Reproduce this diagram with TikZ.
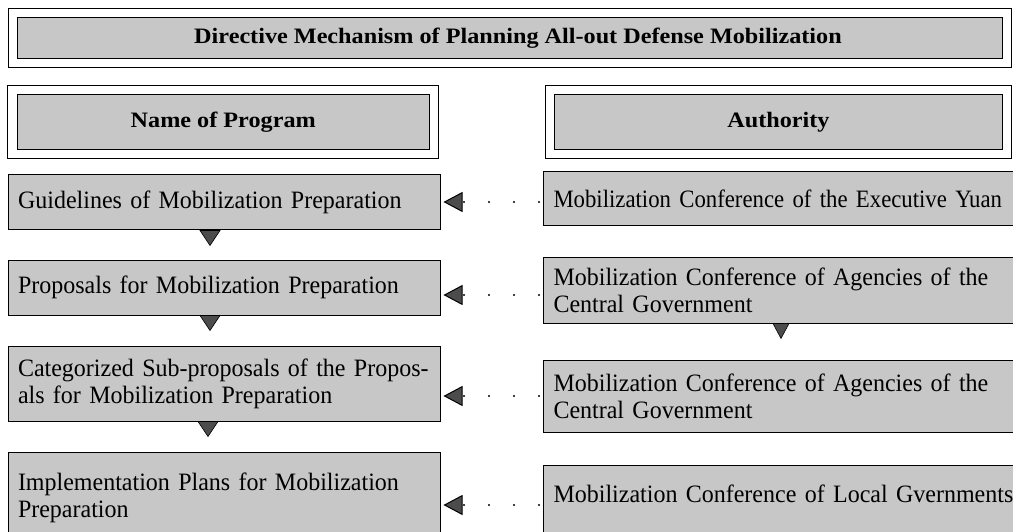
\documentclass[tikz,border=0pt]{standalone}
\usepackage{fontspec}
\setmainfont{Liberation Serif}
\newfontfamily\headfont[FakeStretch=1.1]{Liberation Serif}
\newfontfamily\bodyfont[FakeStretch=0.96,WordSpace=0.75]{Liberation Serif}
\newfontfamily\narrowbody[FakeStretch=0.91,WordSpace=0.75]{Liberation Serif}
\usetikzlibrary{arrows.meta}
\definecolor{boxgray}{gray}{0.78}
\tikzset{
  frame/.style={draw=black, line width=1.2pt, double=white, double distance=8.5pt,
    fill=boxgray, inner sep=0pt, font=\headfont\bfseries\fontsize{22}{26}\selectfont},
  prog/.style={draw=black, line width=1pt, fill=boxgray, inner xsep=10pt, inner ysep=0pt,
    align=left, font=\bodyfont\fontsize{25}{27}\selectfont},
  lbox/.style={prog, text width=412pt, minimum width=432pt},
  rbox/.style={prog, text width=600pt, anchor=west},
  downtri/.style={fill=black!70, draw=black, line width=0.6pt, line join=miter},
  dotarrow/.style={line width=2.2pt, line cap=round, dash pattern=on 0pt off 25pt,
    dash phase=21pt, -{Triangle[length=19pt,width=20pt,fill=black!70,line width=1pt]}, shorten >=3pt}
}
\begin{document}
\begin{tikzpicture}[x=1pt,y=-1pt]
\useasboundingbox (0,0) rectangle (1013,532);
\clip (0,0) rectangle (1013,532);
% headers
\node[frame, minimum width=994pt, minimum height=50pt] (title) at (510,38)
  {\hspace*{16pt}Directive Mechanism of Planning All-out Defense Mobilization};
\node[frame, minimum width=421.5pt, minimum height=64pt] (prog) at (223.25,122)
  {Name of Program};
\node[frame, minimum width=457pt, minimum height=64pt] (auth) at (778.5,122)
  {Authority};
% left column
\node[lbox, minimum height=55pt] (lb1) at (224,202.5)
  {\mbox{Guidelines of Mobilization Preparation}};
\node[lbox, minimum height=55pt] (lb2) at (224,287.5)
  {\mbox{Proposals for Mobilization Preparation}};
\node[lbox, minimum height=75pt] (lb3) at (224,383.5)
  {\mbox{Categorized Sub-proposals of the Propos-}\\\mbox{als for Mobilization Preparation}};
\node[lbox, minimum height=92pt] (lb4) at (224,498)
  {\mbox{Implementation Plans for Mobilization}\\\mbox{Preparation}};
% right column
\node[rbox, minimum height=54pt, font=\narrowbody\fontsize{25}{27}\selectfont] (rb1) at (543,199)
  {\mbox{Mobilization Conference of the Executive Yuan}};
\node[rbox, minimum height=66pt] (rb2) at (543,290)
  {\mbox{Mobilization Conference of Agencies of the}\\\mbox{Central Government}};
\node[rbox, minimum height=72pt] (rb3) at (543,396)
  {\mbox{Mobilization Conference of Agencies of the}\\\mbox{Central Government}};
\node[rbox, minimum height=80pt, text height=17pt, text depth=23pt] (rb4) at (543,505)
  {\mbox{Mobilization Conference of Local Gvernments}};
% down triangles
\filldraw[downtri] ([xshift=-24pt]lb1.south) -- ++(20,0) -- ++(-10,15) -- cycle;
\filldraw[downtri] ([xshift=-24pt]lb2.south) -- ++(20,0) -- ++(-10,15) -- cycle;
\filldraw[downtri] ([xshift=-26pt]lb3.south) -- ++(20,0) -- ++(-10,15) -- cycle;
\filldraw[downtri] ([xshift=230pt]rb2.south west) -- ++(16,0) -- ++(-8,15) -- cycle;
% dotted arrows
\draw[dotarrow] ([yshift=-3pt]rb1.west) -- ([yshift=-3pt]rb1.west -| lb1.east);
\draw[dotarrow] ([yshift=-5pt]rb2.west) -- ([yshift=-5pt]rb2.west -| lb2.east);
\draw[dotarrow] (rb3.west) -- (rb3.west -| lb3.east);
\draw[dotarrow] (rb4.west) -- (rb4.west -| lb4.east);
\end{tikzpicture}
\end{document}
